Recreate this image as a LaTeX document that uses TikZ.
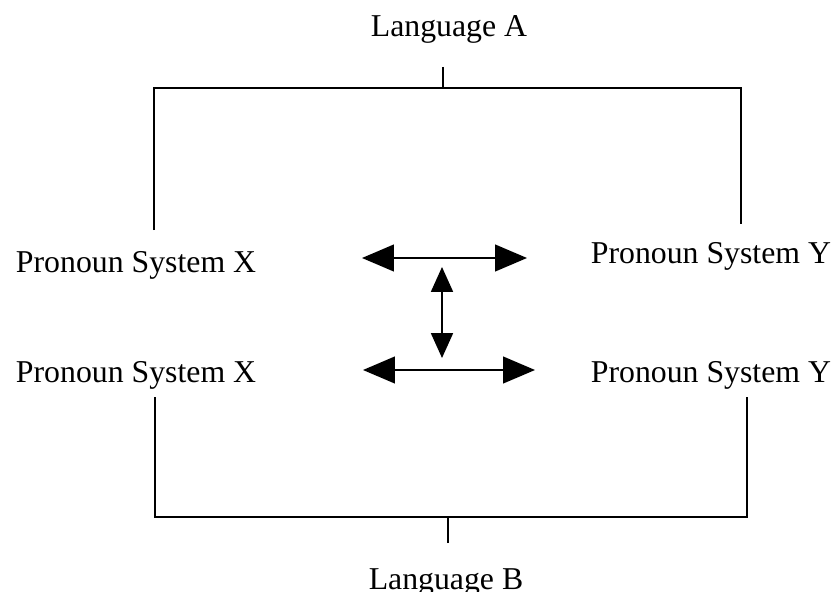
\documentclass[tikz,border=0pt]{standalone}
\usepackage{fontspec}
\setmainfont{Liberation Serif}
\usetikzlibrary{arrows.meta}

\begin{document}
\begin{tikzpicture}[x=0.025cm, y=-0.025cm, line width=1.4pt]
    \tikzstyle{lbl}=[inner sep=0pt, font=\fontsize{22.6}{27}\selectfont]
    \tikzstyle{harr}=[{Triangle[length=22.7pt,width=19pt]}-{Triangle[length=22.7pt,width=19pt]}]
    \tikzstyle{varr}=[{Triangle[length=17.7pt,width=15.6pt]}-{Triangle[length=17.7pt,width=15.6pt]}]

    \useasboundingbox (0,0) rectangle (840,591);

    % languages and pronoun systems
    \node[lbl, anchor=base] (langA) at (449,37) {Language A};
    \node[lbl, anchor=base] (langB) at (446,589) {Language B};
    \node[lbl, anchor=base west] (pxA) at (15,272) {Pronoun System X};
    \node[lbl, anchor=base east] (pyA) at (832,263) {Pronoun System Y};
    \node[lbl, anchor=base west] (pxB) at (15,382) {Pronoun System X};
    \node[lbl, anchor=base east] (pyB) at (832,382) {Pronoun System Y};

    % upper bracket
    \coordinate (tickA) at (443,67);
    \coordinate (stemXA) at (154,230);
    \coordinate (stemYA) at (741,224);
    \draw (stemXA) |- (tickA |- 0,88) -| (stemYA);
    \draw (tickA) -- (tickA |- 0,88);

    % lower bracket
    \coordinate (tickB) at (448,543);
    \coordinate (stemXB) at (155,397);
    \coordinate (stemYB) at (747,397);
    \draw (stemXB) |- (tickB |- 0,517) -| (stemYB);
    \draw (tickB) -- (tickB |- 0,517);

    % correspondences
    \coordinate (aw) at (362,258); \coordinate (ae) at (527,258);
    \coordinate (bw) at (363,370); \coordinate (be) at (535,370);
    \coordinate (vt) at (442,267); \coordinate (vb) at (442,358);
    \draw[harr] (aw) -- (ae);
    \draw[harr] (bw) -- (be);
    \draw[varr] (vt) -- (vb);

\end{tikzpicture}
\end{document}
